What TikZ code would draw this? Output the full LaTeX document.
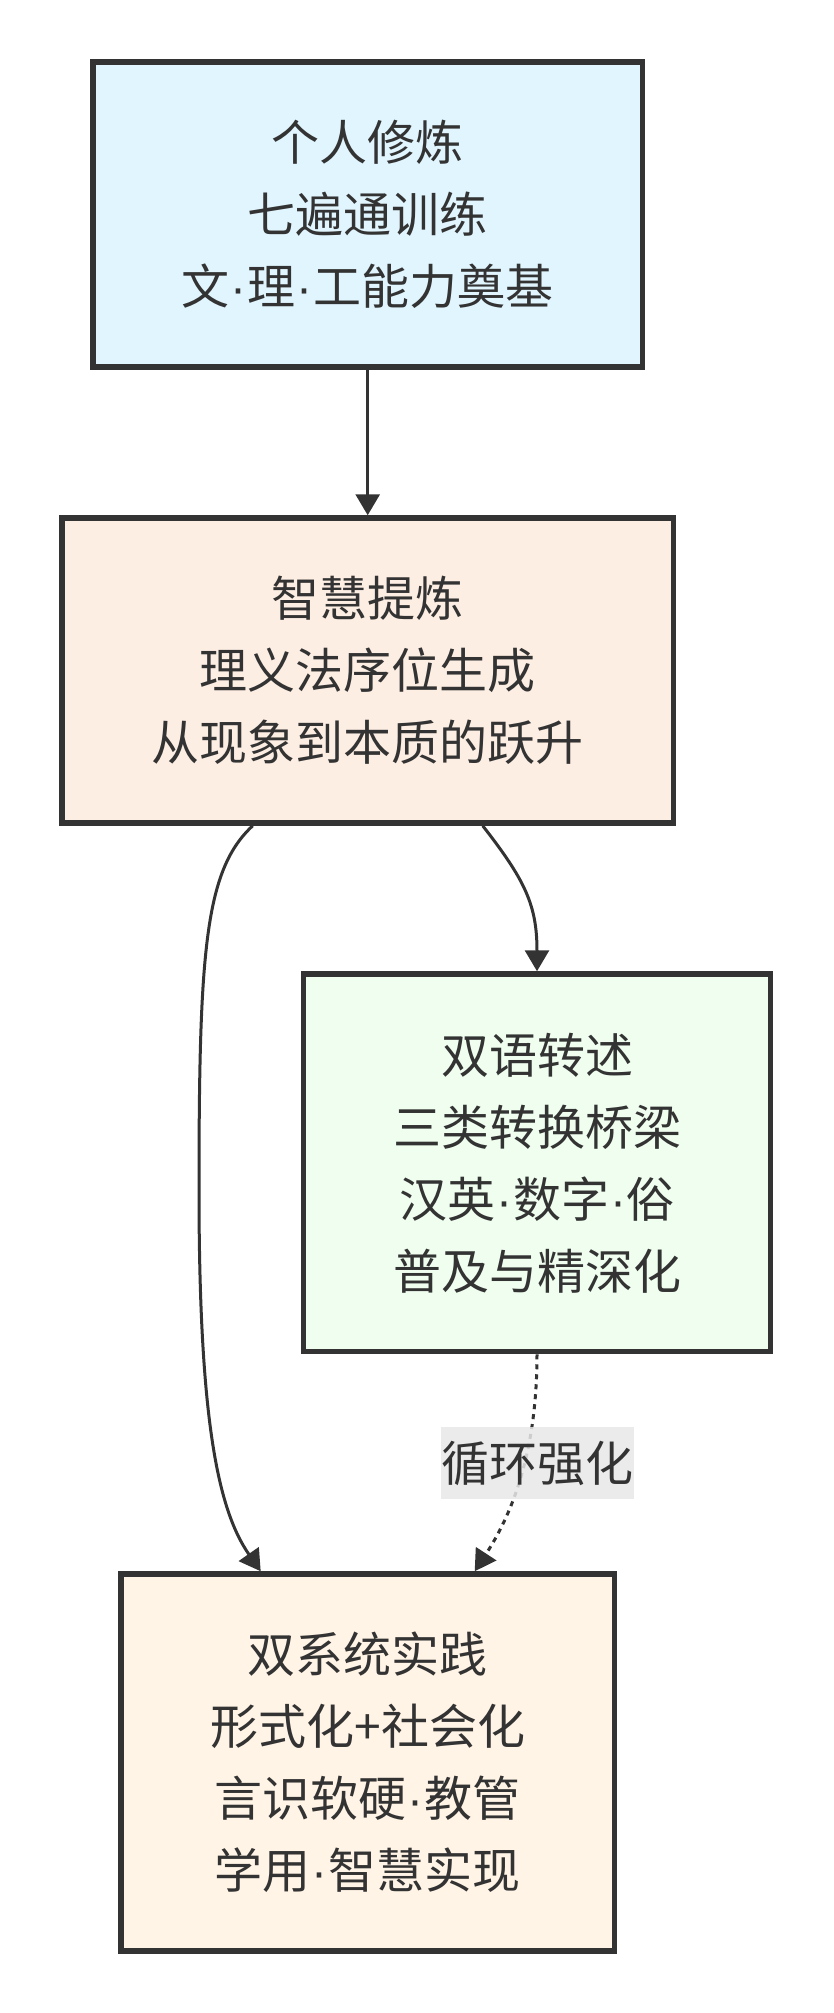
\documentclass[tikz,border=0pt]{standalone}
\usepackage{fontspec}
\setmainfont{Noto Sans CJK SC}
\newfontfamily\dotfont{Liberation Sans}
\newcommand{\mdot}{\kern1pt{\dotfont ·}\kern1pt}
\usetikzlibrary{arrows.meta}
\definecolor{ink}{HTML}{333333}
\definecolor{fillA}{HTML}{E1F5FE}
\definecolor{fillB}{HTML}{FDEEE4}
\definecolor{fillC}{HTML}{EFFEEF}
\definecolor{fillD}{HTML}{FFF4E6}
\definecolor{lblbg}{HTML}{E8E8E8}
\tikzset{
  box/.style={draw=ink, line width=5.5pt, rectangle, inner sep=0pt, align=center,
    text=ink, font=\fontsize{48pt}{72pt}\selectfont},
  conn/.style={draw=ink, line width=3pt, -{Triangle[length=21pt,width=24pt]}},
  dotconn/.style={conn, dash pattern=on 5pt off 5pt},
  lbl/.style={fill=lblbg, fill opacity=0.85, text opacity=1, text=ink, inner sep=0pt,
    minimum width=193pt, minimum height=72pt, font=\fontsize{48pt}{72pt}\selectfont}
}
\begin{document}
\begin{tikzpicture}[x=1pt,y=-1pt]
\useasboundingbox (0,0) rectangle (833,2013);
\node[box, fill=fillA, minimum width=549.4pt, minimum height=305pt] (b1) at (367.7,214.5)
  {个人修炼\\七遍通训练\\文\mdot 理\mdot 工能力奠基};
\node[box, fill=fillB, minimum width=611.4pt, minimum height=305pt] (b2) at (367.7,670.5)
  {智慧提炼\\理义法序位生成\\从现象到本质的跃升};
\node[box, fill=fillC, minimum width=467pt, minimum height=377.5pt] (b3) at (537,1162.75)
  {双语转述\\三类转换桥梁\\汉英\mdot 数字\mdot 俗\\普及与精深化};
\node[box, fill=fillD, minimum width=493.5pt, minimum height=377pt] (b4) at (367.7,1762.5)
  {双系统实践\\形式化+社会化\\言识软硬\mdot 教管\\学用\mdot 智慧实现};
\draw[conn] (b1.south) -- (b2.north);
\draw[conn] ([xshift=-115pt]b2.south) .. controls (205,870) and (199,950) .. (199,1190)
  .. controls (199,1420) and (218,1510) .. ([xshift=-107pt]b4.north);
\draw[conn] ([xshift=115pt]b2.south) .. controls (525,880) and (537,905) .. (b3.north);
\draw[dotconn] (b3.south) .. controls (537,1440) and (518,1505) .. ([xshift=107pt]b4.north);
\node[lbl] (l1) at (537.5,1463) {循环强化};
\end{tikzpicture}
\end{document}
